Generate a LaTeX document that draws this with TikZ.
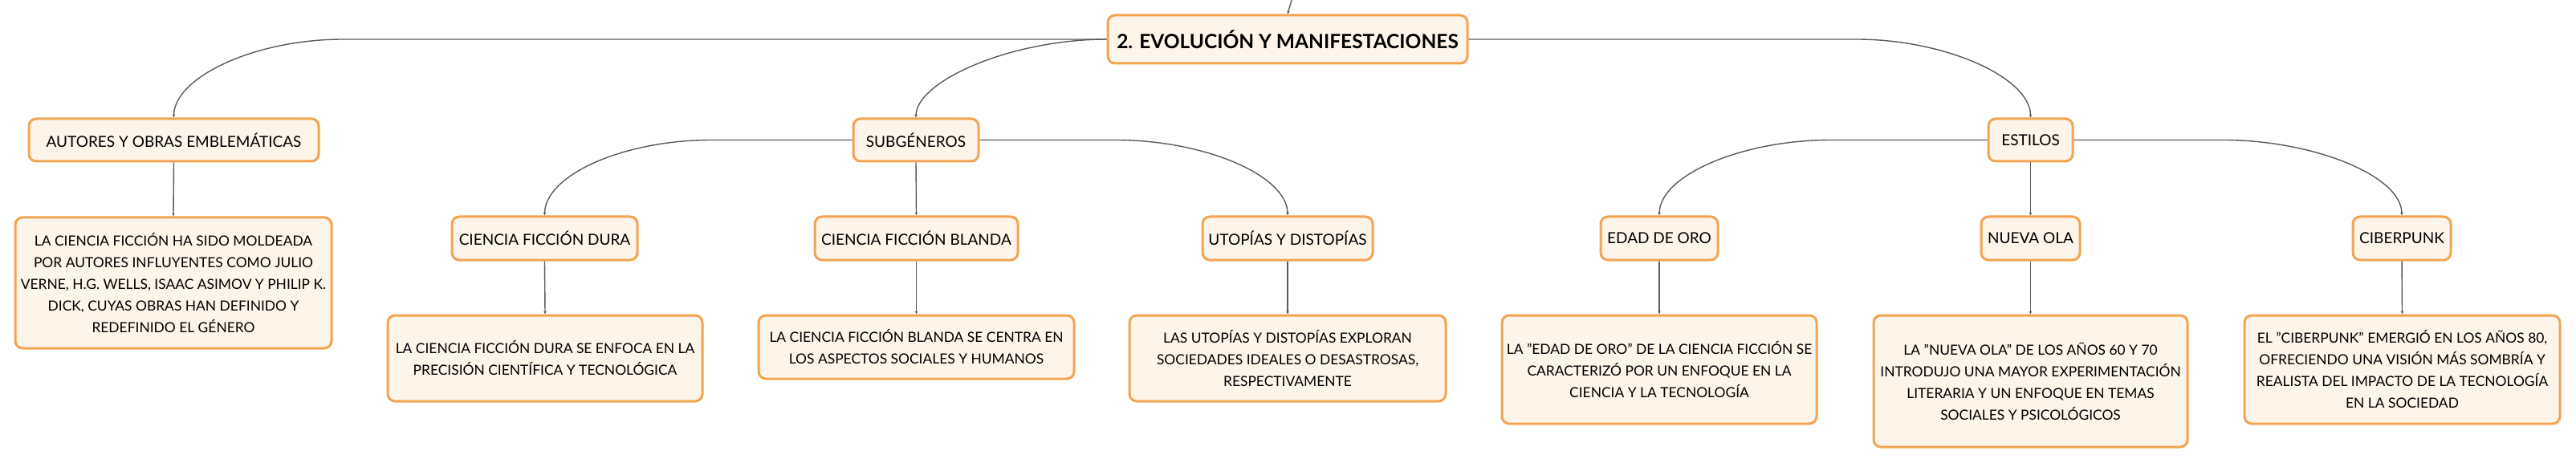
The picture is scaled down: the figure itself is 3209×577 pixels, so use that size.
\documentclass[tikz,border=0pt]{standalone}
\usepackage{fontspec}
\setmainfont{Lato}
\usetikzlibrary{arrows.meta}
\definecolor{boxfill}{HTML}{FDF4EA}
\definecolor{boxline}{HTML}{F2A451}
\definecolor{conncol}{HTML}{5A5A5A}
\tikzset{
  box/.style={draw=boxline, fill=boxfill, line width=3pt, rounded corners=9pt, inner sep=0pt, align=center, text=black},
  lbl/.style={box, font=\fontsize{19}{23}\selectfont},
  desc/.style={box, font=\fontsize{17.4}{27}\selectfont},
  ttl/.style={box, font=\fontsize{24.5}{28}\selectfont\bfseries},
  conn/.style={draw=conncol, line width=1.4pt, -{Stealth[length=4pt,width=3.5pt]}},
}
\begin{document}
\begin{tikzpicture}[x=1pt,y=-1pt]
\useasboundingbox (0,0) rectangle (3209,577);
% main nodes
\node[ttl, minimum width=448pt, minimum height=60pt] (title) at (1604,49) {2. EVOLUCIÓN Y MANIFESTACIONES};
\node[lbl, minimum width=361pt, minimum height=53pt] (autores) at (216.5,174.5) {AUTORES Y OBRAS EMBLEMÁTICAS};
\node[lbl, minimum width=156pt, minimum height=53pt] (sub) at (1141,174.5) {SUBGÉNEROS};
\node[lbl, minimum width=105pt, minimum height=53pt] (estilos) at (2529.5,174.5) {ESTILOS};
% second level
\node[lbl, minimum width=231pt, minimum height=54pt] (dura) at (678.5,297) {CIENCIA FICCIÓN DURA};
\node[lbl, minimum width=253pt, minimum height=54pt] (blanda) at (1141.5,297) {CIENCIA FICCIÓN BLANDA};
\node[lbl, minimum width=212pt, minimum height=54pt] (utop) at (1604,297) {UTOPÍAS Y DISTOPÍAS};
\node[lbl, minimum width=146pt, minimum height=54pt] (edad) at (2067,297) {EDAD DE ORO};
\node[lbl, minimum width=123pt, minimum height=54pt] (nueva) at (2529.5,297) {NUEVA OLA};
\node[lbl, minimum width=122pt, minimum height=54pt] (ciber) at (2992,297) {CIBERPUNK};
% descriptions
\node[desc, minimum width=394pt, minimum height=163pt] (autdesc) at (216,352.5) {LA CIENCIA FICCIÓN HA SIDO MOLDEADA\\POR AUTORES INFLUYENTES COMO JULIO\\VERNE, H.G. WELLS, ISAAC ASIMOV Y PHILIP K.\\DICK, CUYAS OBRAS HAN DEFINIDO Y\\REDEFINIDO EL GÉNERO};
\node[desc, minimum width=392pt, minimum height=107pt] (duradesc) at (679,446.5) {LA CIENCIA FICCIÓN DURA SE ENFOCA EN LA\\PRECISIÓN CIENTÍFICA Y TECNOLÓGICA};
\node[desc, minimum width=393pt, minimum height=79pt] (blandadesc) at (1141.5,432.5) {LA CIENCIA FICCIÓN BLANDA SE CENTRA EN\\LOS ASPECTOS SOCIALES Y HUMANOS};
\node[desc, minimum width=394pt, minimum height=107pt] (utopdesc) at (1604,446.5) {LAS UTOPÍAS Y DISTOPÍAS EXPLORAN\\SOCIEDADES IDEALES O DESASTROSAS,\\RESPECTIVAMENTE};
\node[desc, minimum width=392pt, minimum height=135pt] (edaddesc) at (2067,460.5) {LA "EDAD DE ORO" DE LA CIENCIA FICCIÓN SE\\CARACTERIZÓ POR UN ENFOQUE EN LA\\CIENCIA Y LA TECNOLOGÍA};
\node[desc, minimum width=391pt, minimum height=164pt] (nuevadesc) at (2529.5,475) {LA "NUEVA OLA" DE LOS AÑOS 60 Y 70\\INTRODUJO UNA MAYOR EXPERIMENTACIÓN\\LITERARIA Y UN ENFOQUE EN TEMAS\\SOCIALES Y PSICOLÓGICOS};
\node[desc, minimum width=393pt, minimum height=135pt] (ciberdesc) at (2992.5,460.5) {EL "CIBERPUNK" EMERGIÓ EN LOS AÑOS 80,\\OFRECIENDO UNA VISIÓN MÁS SOMBRÍA Y\\REALISTA DEL IMPACTO DE LA TECNOLOGÍA\\EN LA SOCIEDAD};
% helper coordinates
\coordinate (top) at (1609,0);
\coordinate (h1) at (427,49);
\coordinate (h3) at (2313,49);
\coordinate (h4) at (886,174.5);
\coordinate (h6) at (1390,174.5);
\coordinate (h7) at (2280,174.5);
\coordinate (h9) at (2770,174.5);
% connectors
\draw[conn] (top) -- (title.north);
\draw[conn] (title.west) -- (h1) .. controls +(-110,0) and +(0,-50) .. (autores.north);
\draw[conn] (title.west) .. controls +(-120,0) and +(0,-45) .. (sub.north);
\draw[conn] (title.east) -- (h3) .. controls +(110,0) and +(0,-50) .. (estilos.north);
\draw[conn] (sub.west) -- (h4) .. controls +(-110,0) and +(0,-50) .. (dura.north);
\draw[conn] (sub.south) -- (blanda.north);
\draw[conn] (sub.east) -- (h6) .. controls +(110,0) and +(0,-50) .. (utop.north);
\draw[conn] (estilos.west) -- (h7) .. controls +(-110,0) and +(0,-50) .. (edad.north);
\draw[conn] (estilos.south) -- (nueva.north);
\draw[conn] (estilos.east) -- (h9) .. controls +(110,0) and +(0,-50) .. (ciber.north);
\draw[conn] (autores.south) -- (autdesc.north);
\draw[conn] (dura.south) -- (duradesc.north);
\draw[conn] (blanda.south) -- (blandadesc.north);
\draw[conn] (utop.south) -- (utopdesc.north);
\draw[conn] (edad.south) -- (edaddesc.north);
\draw[conn] (nueva.south) -- (nuevadesc.north);
\draw[conn] (ciber.south) -- (ciberdesc.north);
\end{tikzpicture}
\end{document}
